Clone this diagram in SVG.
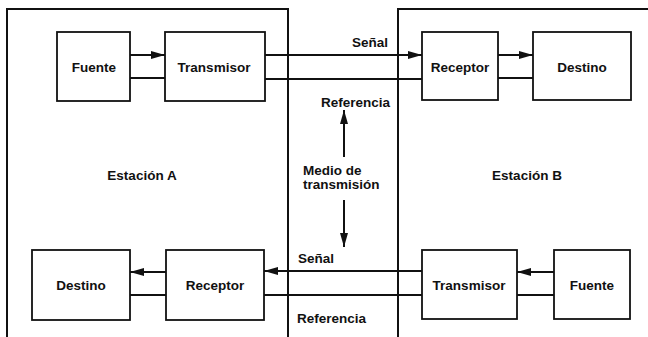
<svg xmlns="http://www.w3.org/2000/svg" width="648" height="337" viewBox="0 0 648 337">
<style>
.box{fill:none;stroke:#111;stroke-width:1.8}
.st{fill:none;stroke:#111;stroke-width:2}
.ln{fill:none;stroke:#111;stroke-width:2}
text{font-family:"Liberation Sans",Arial,sans-serif;font-size:13.5px;font-weight:bold;fill:#111}
.c{text-anchor:middle}
</style>
<defs>
<marker id="ah" viewBox="0 0 14 8" refX="14" refY="4" markerWidth="14" markerHeight="8" markerUnits="userSpaceOnUse" orient="auto">
<path d="M0,0 L14,4 L0,8 Z" fill="#111"/>
</marker>
</defs>
<rect width="648" height="337" fill="#fff"/>
<g id="estacionA">
<path class="st" d="M7,337 V9 H288 V337"/>
<text class="c" x="142" y="180">Estación A</text>
</g>
<g id="estacionB">
<path class="st" d="M398,337 V9 H648"/>
<text class="c" x="527" y="180">Estación B</text>
</g>
<g id="fuenteA"><rect class="box" x="57" y="32" width="73" height="69"/><text class="c" x="94" y="72">Fuente</text></g>
<g id="transmisorA"><rect class="box" x="165" y="32" width="100" height="69"/><text class="c" x="214" y="72">Transmisor</text></g>
<g id="receptorB"><rect class="box" x="422" y="32" width="76" height="68"/><text class="c" x="460" y="72">Receptor</text></g>
<g id="destinoB"><rect class="box" x="533" y="32" width="98" height="68"/><text class="c" x="582" y="72">Destino</text></g>
<g id="destinoA"><rect class="box" x="32" y="250" width="98" height="70"/><text class="c" x="81" y="290">Destino</text></g>
<g id="receptorA"><rect class="box" x="166" y="250" width="98" height="70"/><text class="c" x="215" y="290">Receptor</text></g>
<g id="transmisorB"><rect class="box" x="422" y="250" width="95" height="69"/><text class="c" x="469" y="290">Transmisor</text></g>
<g id="fuenteB"><rect class="box" x="554" y="250" width="76" height="69"/><text class="c" x="592" y="290">Fuente</text></g>
<g id="medio">
<text x="352" y="47">Señal</text>
<text x="321" y="107">Referencia</text>
<text x="303" y="175">Medio de</text>
<text x="303" y="189">transmisión</text>
<text x="298" y="263">Señal</text>
<text x="297" y="323">Referencia</text>
</g>
<g id="connectors">
<line class="ln" x1="130" y1="55" x2="165" y2="55" marker-end="url(#ah)"/>
<line class="ln" x1="130" y1="78" x2="165" y2="78"/>
<line class="ln" x1="265" y1="55" x2="422" y2="55" marker-end="url(#ah)"/>
<line class="ln" x1="265" y1="79" x2="422" y2="79"/>
<line class="ln" x1="498" y1="55" x2="533" y2="55" marker-end="url(#ah)"/>
<line class="ln" x1="498" y1="78" x2="533" y2="78"/>
<line class="ln" x1="344" y1="157" x2="344" y2="110" marker-end="url(#ah)"/>
<line class="ln" x1="344" y1="200" x2="344" y2="247" marker-end="url(#ah)"/>
<line class="ln" x1="422" y1="271" x2="264" y2="271" marker-end="url(#ah)"/>
<line class="ln" x1="422" y1="295" x2="264" y2="295"/>
<line class="ln" x1="166" y1="272" x2="130" y2="272" marker-end="url(#ah)"/>
<line class="ln" x1="166" y1="295" x2="130" y2="295"/>
<line class="ln" x1="554" y1="272" x2="517" y2="272" marker-end="url(#ah)"/>
<line class="ln" x1="554" y1="295" x2="517" y2="295"/>
</g>
</svg>
